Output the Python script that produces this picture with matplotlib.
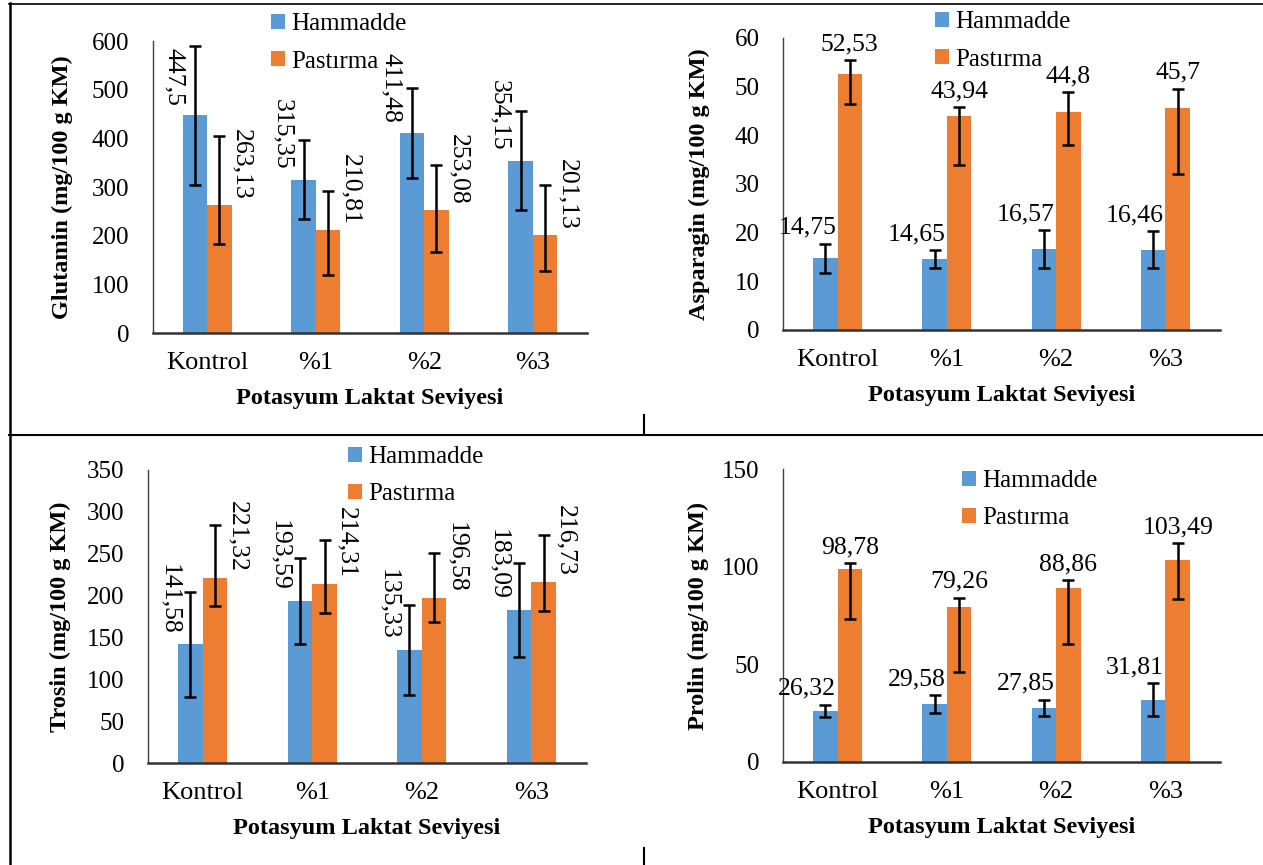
import numpy as np
import matplotlib
matplotlib.use("Agg")
import matplotlib.pyplot as plt
from matplotlib.lines import Line2D

plt.rcParams["font.family"] = ["Liberation Serif", "DejaVu Serif"]

categories = ["Kontrol", "%1", "%2", "%3"]
series_names = ["Hammadde", "Pastırma"]
xlabel = "Potasyum Laktat Seviyesi"

# Glutamin
glu_ham = [447.5, 315.35, 411.48, 354.15]
glu_pas = [263.13, 210.81, 253.08, 201.13]
glu_ham_err = [143, 81, 92, 102]
glu_pas_err_up = [142, 81, 92, 102]
glu_pas_err_lo = [80, 92, 87, 74]

# Asparagin
asp_ham = [14.75, 14.65, 16.57, 16.46]
asp_pas = [52.53, 43.94, 44.8, 45.7]
asp_ham_err = [3.0, 1.85, 3.9, 3.8]
asp_pas_err_up = [3.0, 1.9, 4.1, 3.9]
asp_pas_err_lo = [6.1, 10.0, 6.7, 13.7]

# Trosin
tro_ham = [141.58, 193.59, 135.33, 183.09]
tro_pas = [221.32, 214.31, 196.58, 216.73]
tro_ham_err = [62.8, 51.7, 54, 56]
tro_pas_err_up = [63, 51.7, 54, 55.6]
tro_pas_err_lo = [34, 35, 28, 35]

# Prolin
pro_ham = [26.32, 29.58, 27.85, 31.81]
pro_pas = [98.78, 79.26, 88.86, 103.49]
pro_ham_err = [3.1, 4.7, 4.1, 8.5]
pro_pas_err_up = [3.1, 4.9, 4.2, 8.5]
pro_pas_err_lo = [25.4, 33.4, 28.6, 20.2]

BLUE = "#5B9BD5"
ORANGE = "#ED7D31"
W, H = 1263, 865


def fmt(v):
    s = ("%.2f" % v).rstrip("0").rstrip(".")
    return s.replace(".", ",")


def panel(rect, ylabel, ham, pas, ham_err, pas_up, pas_lo, ymax, ystep,
          rotated, legend_xy, ylabel_x):
    l, t, r, b = rect
    ax = fig.add_axes([l / W, 1 - b / H, (r - l) / W, (b - t) / H])
    x = np.arange(len(categories))
    bw = 0.224
    ax.bar(x - bw / 2, ham, bw, color=BLUE, label=series_names[0], zorder=2)
    ax.bar(x + bw / 2, pas, bw, color=ORANGE, label=series_names[1], zorder=2)
    ekw = dict(fmt="none", ecolor="black", elinewidth=1.8, capsize=4,
               capthick=1.8, zorder=3)
    ax.errorbar(x - bw / 2, ham, yerr=ham_err, **ekw)
    ax.errorbar(x + bw / 2, pas, yerr=[pas_lo, pas_up], **ekw)

    for i in range(len(categories)):
        if rotated:
            ax.annotate(fmt(ham[i]), (x[i] - bw / 2, ham[i]), xytext=(-15, 7),
                        textcoords="offset points", rotation=270,
                        ha="center", va="bottom", fontsize=18.5)
            ax.annotate(fmt(pas[i]), (x[i] + bw / 2, pas[i]), xytext=(16, 4),
                        textcoords="offset points", rotation=270,
                        ha="center", va="bottom", fontsize=18.5)
        else:
            ax.annotate(fmt(ham[i]), (x[i] - bw / 2, ham[i] + ham_err[i]),
                        xytext=(-13, 7), textcoords="offset points",
                        ha="center", va="baseline", fontsize=18.5)
            ax.annotate(fmt(pas[i]), (x[i] + bw / 2, pas[i] + pas_up[i]),
                        xytext=(0, 7), textcoords="offset points",
                        ha="center", va="baseline", fontsize=18.5)

    ax.set_xlim(-0.5, len(categories) - 0.5)
    ax.set_ylim(0, ymax)
    ax.set_yticks(np.arange(0, ymax + 1, ystep))
    ax.set_xticks(x)
    ax.set_xticklabels(categories)
    ax.tick_params(axis="y", length=0, pad=17, labelsize=18)
    ax.tick_params(axis="x", length=0, pad=14, labelsize=19)
    for s in ["top", "right"]:
        ax.spines[s].set_visible(False)
    ax.spines["left"].set_color("#404040")
    ax.spines["left"].set_linewidth(1.0)
    ax.spines["bottom"].set_color("#333333")
    ax.spines["bottom"].set_linewidth(1.8)
    ax.set_xlabel(xlabel, fontsize=17.5, fontweight="bold", labelpad=10)
    ax.set_ylabel(ylabel, fontsize=17.5, fontweight="bold")
    ax.yaxis.set_label_coords((ylabel_x - l) / (r - l), 0.5)
    ax.legend(loc="upper left", bbox_to_anchor=(legend_xy[0] / W, 1 - legend_xy[1] / H),
              bbox_transform=fig.transFigure, frameon=False, fontsize=18,
              borderpad=0, borderaxespad=0, handlelength=0.55, handleheight=0.55,
              handletextpad=0.25, labelspacing=0.62)
    return ax


fig = plt.figure(figsize=(W / 100, H / 100), dpi=100)

panel((153, 41, 587, 333), "Glutamin (mg/100 g KM)", glu_ham, glu_pas,
      glu_ham_err, glu_pas_err_up, glu_pas_err_lo, 600, 100, True, (271, 13), 73)
panel((783, 38, 1220, 330), "Asparagin (mg/100 g KM)", asp_ham, asp_pas,
      asp_ham_err, asp_pas_err_up, asp_pas_err_lo, 60, 10, False, (935, 11), 710)
panel((148, 470, 586, 763), "Trosin (mg/100 g KM)", tro_ham, tro_pas,
      tro_ham_err, tro_pas_err_up, tro_pas_err_lo, 350, 50, True, (348, 446), 71)
panel((783, 469, 1220, 762), "Prolin (mg/100 g KM)", pro_ham, pro_pas,
      pro_ham_err, pro_pas_err_up, pro_pas_err_lo, 150, 50, False, (962, 470), 709)

# table frame lines
def hline(y, x0, x1, lw):
    fig.add_artist(Line2D([x0 / W, x1 / W], [1 - y / H, 1 - y / H], color="black", lw=lw))


def vline(x, y0, y1, lw):
    fig.add_artist(Line2D([x / W, x / W], [1 - y0 / H, 1 - y1 / H], color="black", lw=lw))


hline(3.5, 9, W, 1.2)
hline(435, 9, W, 1.5)
vline(9.5, 3, H, 1.8)
vline(644, 415, 435, 1.5)
vline(644, 848, H, 1.5)

fig.savefig("out.png", dpi=100)
